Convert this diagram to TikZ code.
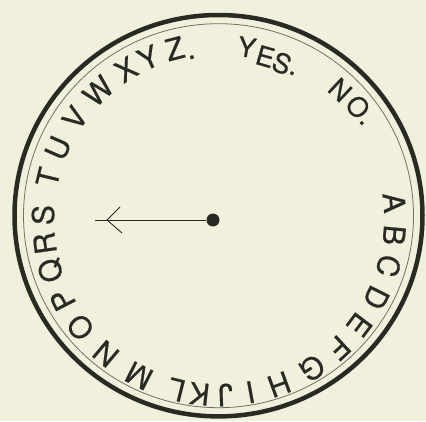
\documentclass[tikz,border=0pt]{standalone}
\usepackage{fontspec}
\newfontfamily\dialfont[FakeBold=0.6]{TeX Gyre Heros}
\definecolor{paper}{HTML}{F0F0DC}
\definecolor{ink}{HTML}{2A2A25}
\definecolor{fine}{HTML}{707066}
\begin{document}
\begin{tikzpicture}[x=1pt,y=1pt,
  glyph/.style={text=ink, font=\dialfont\fontsize{30}{32}\selectfont, inner sep=0pt, anchor=center},
  smallglyph/.style={glyph, font=\dialfont\fontsize{27}{29}\selectfont},
  rim/.style={draw=ink, line width=4.5pt},
  innerrim/.style={draw=fine, line width=0.8pt},
  pointer/.style={draw=ink, line width=0.9pt},
  pivotdot/.style={circle, fill=ink, minimum size=13pt, inner sep=0pt}
]
\fill[paper] (0,0) rectangle (426,421);
\useasboundingbox (0,0) rectangle (426,421);
\coordinate (rc) at (218.5,205.3);
\draw[rim] (rc) ellipse [x radius=204, y radius=200.7];
\draw[innerrim] (rc) ellipse [x radius=195, y radius=192];
\coordinate (lc) at (219,202);
\foreach \ang/\rad/\ch [count=\i] in {
  5.3/176/A, -5.3/176/B, -15.5/176/C, -26.6/176/D, -37/176/E, -47/176/F,
  -58/176/G, -70/176/H, -79.6/176/I, -88/176/J, -96.3/176/K, -104/176/L,
  -117/176/M, -130/176/N, -142/176/O, -152.7/176/P, -163/176/Q, -172/176/R,
  -181.3/176/S, -193.7/176/T, -203.8/176/U, -215/176/V, -226.6/176/W,
  -238.1/176/X, -246.3/176/Y, -255.4/176/Z, -260.5/164/.}
  \path (lc) ++(\ang:\rad) node[glyph, rotate=\ang-90] (ch\i) {\ch};
\foreach \ang/\rad/\ch [count=\i] in {
  80.8/174/Y, 74.1/169/E, 68/168/S, 63.4/163/., 46.8/177/N, 38.9/178.5/O, 33.9/172/.}
  \path (lc) ++(\ang:\rad) node[smallglyph, rotate=\ang-90] (yn\i) {\ch};
\node[pivotdot] (pivot) at (213,201) {};
\coordinate (tail) at (95,201);
\coordinate (apex) at (107,201);
\coordinate (armup) at (120,214);
\coordinate (armdown) at (122,188);
\draw[pointer] (pivot) -- (tail);
\draw[pointer] (armup) -- (apex) -- (armdown);
\end{tikzpicture}
\end{document}
